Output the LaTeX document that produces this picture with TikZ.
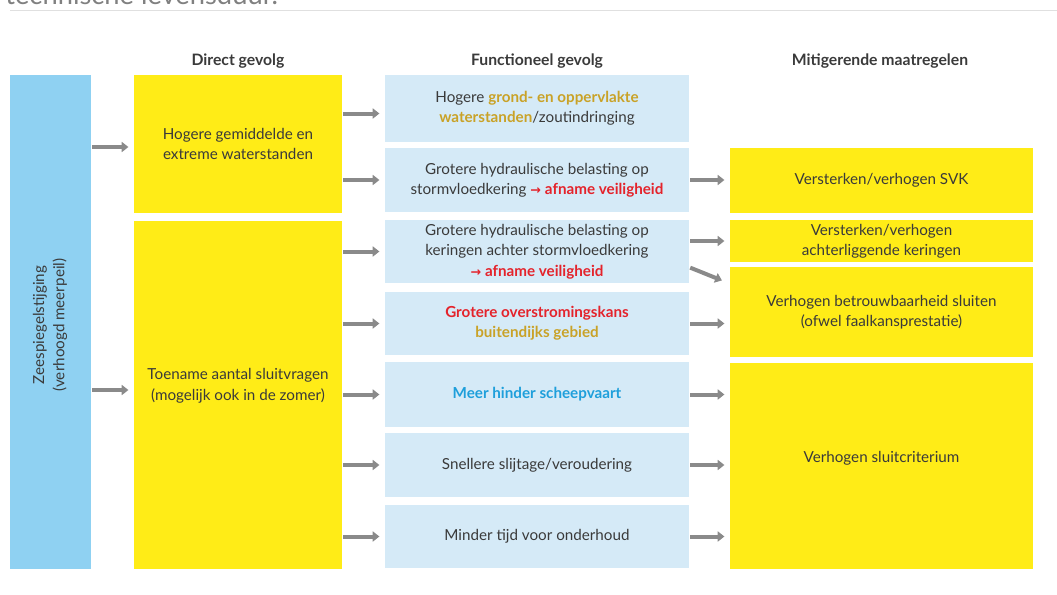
\documentclass[tikz,border=0pt]{standalone}
\usepackage{fontspec}
\setmainfont{Lato}
\newfontfamily\symf{DejaVu Sans}
\usetikzlibrary{arrows.meta}
\definecolor{ylw}{HTML}{FFEC17}
\definecolor{lblue}{HTML}{8FD1F2}
\definecolor{pblue}{HTML}{D5EAF7}
\definecolor{txt}{HTML}{3A3A3A}
\definecolor{gold}{HTML}{C9A227}
\definecolor{rd}{HTML}{E4232B}
\definecolor{cyanb}{HTML}{1E9FDB}
\definecolor{arrc}{HTML}{8A8A8A}
\newcommand\cbox[7]{\node[#6, minimum width={(#4-#2)*0.75pt}, minimum height={(#5-#3)*0.75pt}] (#1) at ({(#2+#4)/2},{(#3+#5)/2}) {#7};}
\newcommand\ra{\textcolor{rd}{\symf\bfseries\fontsize{9.5}{9.5}\selectfont →}}
\begin{document}
\begin{tikzpicture}[x=0.75pt,y=-0.75pt,
  box/.style={inner sep=0pt, align=center, text=txt, font=\fontsize{11.4}{15.2}\selectfont},
  yb/.style={box, fill=ylw},
  bb/.style={box, fill=pblue},
  lb/.style={box, fill=lblue},
  hdr/.style={font=\bfseries\fontsize{11.8}{14}\selectfont, text=txt},
  arw/.style={draw=arrc, line width=3pt, -{Triangle[length=5pt,width=7.5pt]}, shorten <=0.75pt, shorten >=4pt}]
\useasboundingbox (0,0) rectangle (1057,594);
\begin{scope}
\clip (0,0) rectangle (1057,9);
\node[anchor=base west, inner sep=0pt, text=gray, font=\fontsize{20.5}{20.5}\selectfont] (cut) at (5,4) {technische levensduur.};
\end{scope}
\coordinate (la) at (10,10);
\coordinate (lb) at (1057,10);
\draw[draw=black!12, line width=0.75pt] (la) -- (lb);

\node[hdr] (h1) at (238,61) {Direct gevolg};
\node[hdr] (h2) at (537,61) {Functioneel gevolg};
\node[hdr] (h3) at (880,61) {Mitigerende maatregelen};

\cbox{z}{10}{75}{91}{569}{lb}{}
\node[box, rotate=90] (zt) at (50,325) {Zeespiegelstijging\\(verhoogd meerpeil)};

\cbox{y1}{134}{75}{342}{213}{yb}{Hogere gemiddelde en\\extreme waterstanden}
\cbox{y2}{134}{221}{342}{569}{yb}{}
\node[box] (y2t) at ([yshift=7pt]y2.center) {Toename aantal sluitvragen\\(mogelijk ook in de zomer)};

\cbox{b1}{385}{75}{689}{142}{bb}{Hogere \textcolor{gold}{\bfseries grond- en oppervlakte}\\\textcolor{gold}{\bfseries waterstanden}/zoutindringing}
\cbox{b2}{385}{148}{689}{212}{bb}{Grotere hydraulische belasting op\\stormvloedkering \ra\ \textcolor{rd}{\bfseries afname veiligheid}}
\cbox{b3}{385}{220}{689}{283}{bb}{Grotere hydraulische belasting op\\keringen achter stormvloedkering\\\ra\ \textcolor{rd}{\bfseries afname veiligheid}}
\cbox{b4}{385}{292}{689}{355}{bb}{\textcolor{rd}{\bfseries Grotere overstromingskans}\\\textcolor{gold}{\bfseries buitendijks gebied}}
\cbox{b5}{385}{362}{689}{427}{bb}{\textcolor{cyanb}{\bfseries Meer hinder scheepvaart}}
\cbox{b6}{385}{433}{689}{497}{bb}{Snellere slijtage/veroudering}
\cbox{b7}{385}{505}{689}{568}{bb}{Minder tijd voor onderhoud}

\cbox{r1}{730}{148}{1033}{213}{yb}{Versterken/verhogen SVK}
\cbox{r2}{730}{220}{1033}{262}{yb}{\fontsize{11.4}{13.5}\selectfont Versterken/verhogen\\\fontsize{11.4}{13.5}\selectfont achterliggende keringen}
\cbox{r3}{730}{267}{1033}{357}{yb}{Verhogen betrouwbaarheid sluiten\\(ofwel faalkansprestatie)}
\cbox{r4}{730}{363}{1033}{569}{yb}{}
\node[box] (r4t) at ([yshift=6pt]r4.center) {Verhogen sluitcriterium};

\draw[arw] ([yshift=-2.25pt]z.east |- y1.west) -- ([yshift=-2.25pt]y1.west);
\draw[arw] ([yshift=3.75pt]z.east |- y2.west) -- ([yshift=3.75pt]y2.west);

\draw[arw] ([yshift=-3.75pt]y1.east |- b1.west) -- ([yshift=-3.75pt]b1.west);
\draw[arw] (y1.east |- b2.west) -- (b2.west);
\draw[arw] (y2.east |- b3.west) -- (b3.west);
\draw[arw] (y2.east |- b4.west) -- (b4.west);
\draw[arw] (y2.east |- b5.west) -- (b5.west);
\draw[arw] (y2.east |- b6.west) -- (b6.west);
\draw[arw] (y2.east |- b7.west) -- (b7.west);

\draw[arw] (b2.east) -- (r1.west |- b2.east);
\draw[arw] (b3.east |- r2.west) -- (r2.west);
\draw[arw, shorten >=2pt] ([yshift=12pt]b3.south east) -- ([xshift=-4pt,yshift=-11pt]r3.north west);
\draw[arw] (b4.east) -- (r3.west |- b4.east);
\draw[arw] (b5.east) -- (r4.west |- b5.east);
\draw[arw] (b6.east) -- (r4.west |- b6.east);
\draw[arw] (b7.east) -- (r4.west |- b7.east);
\end{tikzpicture}
\end{document}
